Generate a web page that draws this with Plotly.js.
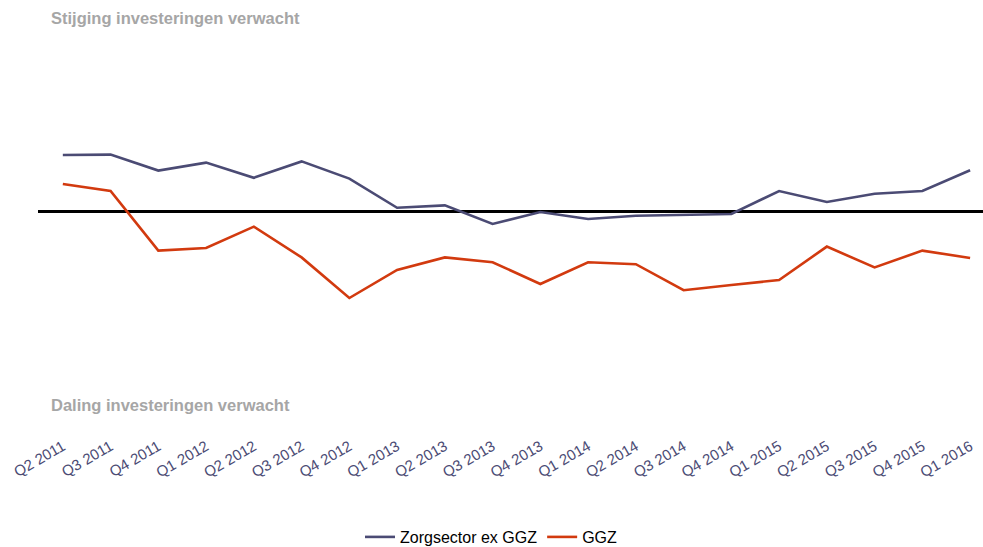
<!DOCTYPE html>
<html>
<head>
<meta charset="utf-8">
<script src="https://cdn.plot.ly/plotly-3.0.1.min.js"></script>
<style>html,body{margin:0;padding:0;background:#fff;}#chart{width:983px;height:547px;}</style>
</head>
<body>
<div id="chart"></div>
<script>
const quarters = ["Q2 2011","Q3 2011","Q4 2011","Q1 2012","Q2 2012","Q3 2012","Q4 2012","Q1 2013","Q2 2013","Q3 2013","Q4 2013","Q1 2014","Q2 2014","Q3 2014","Q4 2014","Q1 2015","Q2 2015","Q3 2015","Q4 2015","Q1 2016"];
const zorgsector = [14.0, 14.1, 10.1, 12.1, 8.3, 12.4, 8.1, 0.8, 1.4, -3.25, -0.25, -2.0, -1.2, -0.9, -0.75, 5.0, 2.25, 4.3, 5.0, 10.2];
const ggz = [6.75, 5.0, -9.9, -9.25, -3.9, -11.6, -21.75, -14.75, -11.6, -12.8, -18.25, -12.8, -13.3, -19.8, -18.5, -17.25, -8.9, -14.1, -9.9, -11.75];
const seriesNames = ["Zorgsector ex GGZ", "GGZ"];
const topLabel = "Stijging investeringen verwacht";
const bottomLabel = "Daling investeringen verwacht";

const idx = quarters.map((q, i) => i);
const traces = [
  {x: idx, y: zorgsector, name: seriesNames[0], type: "scatter", mode: "lines",
   line: {color: "#4b4b74", width: 2.6}},
  {x: idx, y: ggz, name: seriesNames[1], type: "scatter", mode: "lines",
   line: {color: "#d23a0f", width: 2.6}}
];
const layout = {
  width: 983, height: 547,
  margin: {l: 38, r: 0, t: 11, b: 136},
  paper_bgcolor: "#fff", plot_bgcolor: "#fff",
  font: {family: "Arial, 'Liberation Sans', sans-serif"},
  showlegend: true,
  legend: {orientation: "h", x: 0.5, xanchor: "center", xref: "container",
           y: 10/547, yanchor: "middle", yref: "container",
           font: {size: 16, color: "#000"}, itemwidth: 30},
  xaxis: {range: [-0.52, 19.27], tickmode: "array", tickvals: idx, ticktext: quarters,
          tickangle: -30, showgrid: false, zeroline: false, showline: false, ticks: "",
          automargin: false, ticklabelstandoff: 23, tickfont: {size: 15, color: "#4b4b74"}},
  yaxis: {range: [-50, 50], showgrid: false, showticklabels: false, ticks: "", automargin: false,
          zeroline: true, zerolinecolor: "#000", zerolinewidth: 3, showline: false},
  annotations: [
    {xref: "paper", yref: "paper", x: (49-38)/945, xanchor: "left", y: (411-18)/400, yanchor: "middle",
     text: "<b>" + topLabel + "</b>", showarrow: false, font: {size: 16.5, color: "#a6a6a6"}},
    {xref: "paper", yref: "paper", x: (49-38)/945, xanchor: "left", y: (411-405)/400, yanchor: "middle",
     text: "<b>" + bottomLabel + "</b>", showarrow: false, font: {size: 16.5, color: "#a6a6a6"}}
  ]
};
Plotly.newPlot("chart", traces, layout, {displayModeBar: false, staticPlot: true});
</script>
</body>
</html>
